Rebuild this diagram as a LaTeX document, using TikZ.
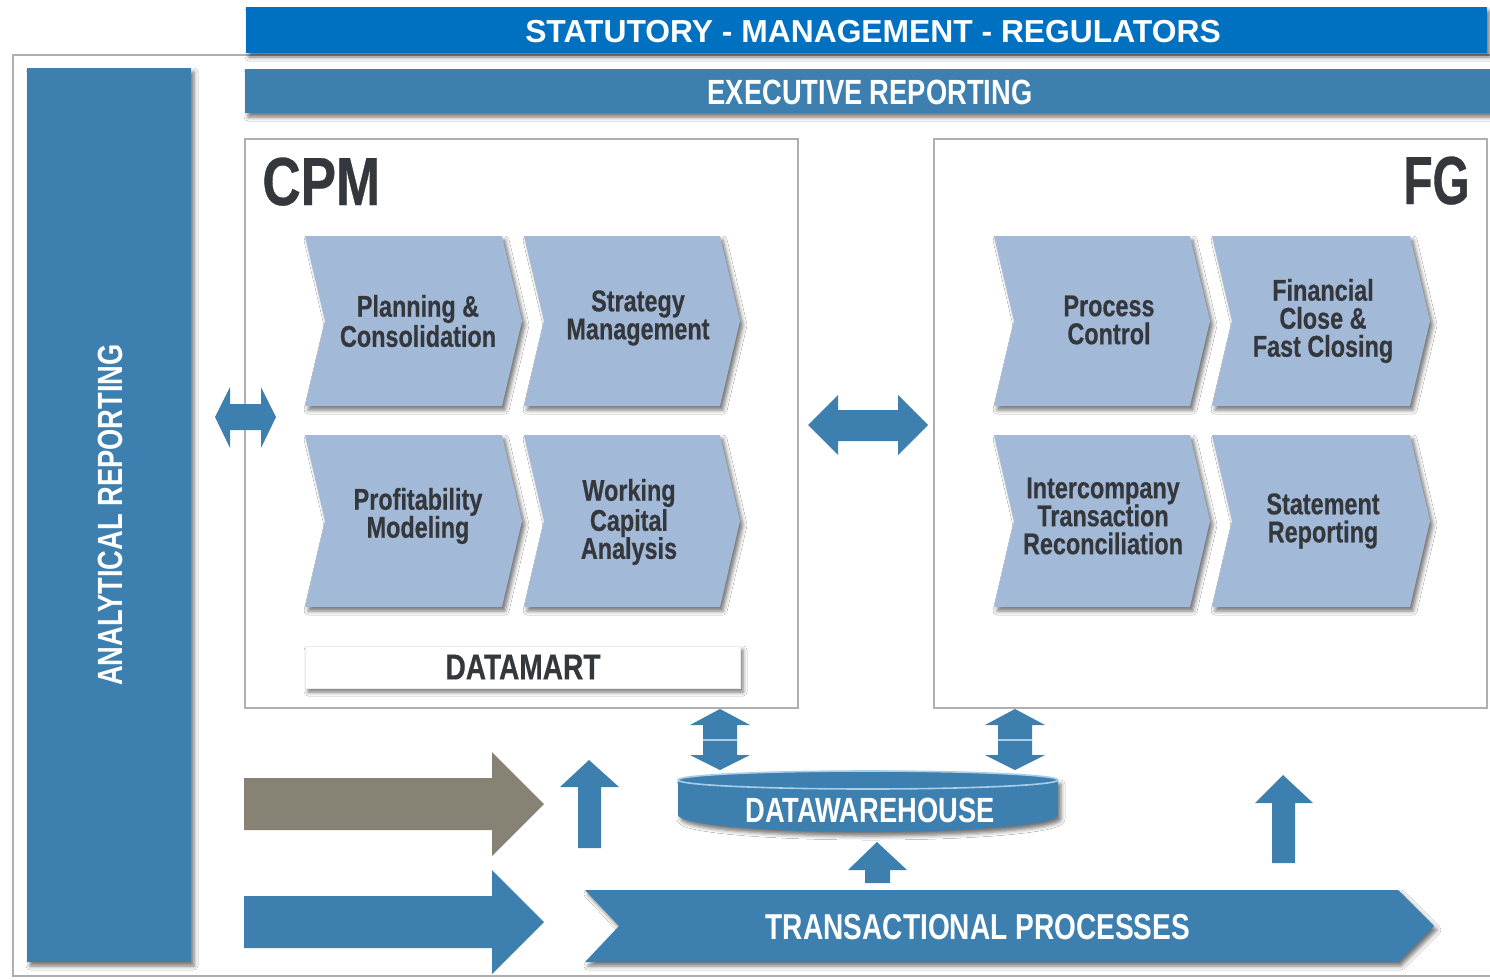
\documentclass[tikz,border=0pt]{standalone}
\usepackage{fontspec}
\setmainfont{Liberation Sans}
\newfontfamily\cf[FakeStretch=0.78]{Liberation Sans}
\newfontfamily\cfb[FakeStretch=0.78, FakeBold=0.5]{Liberation Sans}
\newfontfamily\cfn[FakeStretch=0.70, FakeBold=0.5]{Liberation Sans}
\usetikzlibrary{shadows.blur}
\definecolor{topblue}{RGB}{0,112,192}
\definecolor{midblue}{RGB}{61,128,176}
\definecolor{chevblue}{RGB}{163,185,216}
\definecolor{darktxt}{RGB}{52,56,60}
\definecolor{graybrown}{RGB}{135,131,116}
\definecolor{framegray}{RGB}{175,175,175}
\definecolor{lightline}{RGB}{170,205,232}
\tikzset{
  shd/.style={blur shadow={shadow xshift=1.5pt, shadow yshift=-2pt, shadow blur radius=2pt, shadow opacity=55}},
  chev/.style={fill=chevblue, shd},
  chevtxt/.style={text=darktxt, font=\cfb\bfseries\fontsize{15pt}{14pt}\selectfont, align=center, inner sep=0pt},
  bartxt/.style={text=white, font=\cf\bfseries\fontsize{17.5pt}{18pt}\selectfont, inner sep=0pt},
  bigtxt/.style={text=darktxt, font=\cfb\bfseries\fontsize{34pt}{34pt}\selectfont, inner sep=0pt},
  blk/.style={fill=midblue},
  boxline/.style={draw=framegray, fill=white, line width=0.6pt},
}
\newcommand\chevron[4]{\fill[chev] (#1,#2) -- ({#3-20},#2) -- (#3,{(#2+#4)/2}) -- ({#3-20},#4) -- (#1,#4) -- ({#1+20},{(#2+#4)/2}) -- cycle;}
\begin{document}
\begin{tikzpicture}[x=0.5pt,y=-0.5pt]
\useasboundingbox (0,0) rectangle (1490,980);
\clip (0,0) rectangle (1490,980);
\fill[white] (0,0) rectangle (1490,980);
% outer frame
\draw[framegray, line width=0.8pt] (1500,976) -- (13,976) -- (13,55) -- (1500,55);
% top bar
\fill[topblue, shd] (246,7) rectangle (1487,53);
\node[text=white, font=\bfseries\fontsize{15.9pt}{16pt}\selectfont, inner sep=0pt] (stat) at (873,32) {STATUTORY - MANAGEMENT - REGULATORS};
% executive reporting
\fill[midblue, shd] (245,69) rectangle (1500,113);
\node[bartxt] (exec) at (870,92) {EXECUTIVE REPORTING};
% analytical reporting
\fill[midblue, shd] (27,68) rectangle (191,962);
\node[bartxt, rotate=90] (anal) at (110,515) {ANALYTICAL REPORTING};
% CPM and FG boxes
\draw[boxline] (245,139) rectangle (798,708);
\draw[boxline] (934,139) rectangle (1487,708);
\node[bigtxt, anchor=base west] (cpm) at (262,205) {CPM};
\node[bigtxt, font=\cfn\bfseries\fontsize{34pt}{34pt}\selectfont, anchor=base east] (fg) at (1470,204) {FG};
% CPM chevrons
\chevron{305}{236}{522}{406}
\chevron{524}{236}{740}{406}
\chevron{305}{435}{522}{607}
\chevron{524}{435}{740}{607}
\node[chevtxt] (plan) at (418,321) {Planning \&\\Consolidation};
\node[chevtxt] (strat) at (638,318) {Strategy\\Management};
\node[chevtxt] (prof) at (418,516) {Profitability\\Modeling};
\node[chevtxt] (work) at (629,522) {Working\\Capital\\Analysis};
% FG chevrons
\chevron{994}{236}{1210}{406}
\chevron{1212}{236}{1430}{406}
\chevron{994}{435}{1210}{607}
\chevron{1212}{435}{1430}{607}
\node[chevtxt] (proc) at (1109,320) {Process\\Control};
\node[chevtxt] (fin) at (1323,321) {Financial\\Close \&\\Fast Closing};
\node[chevtxt] (inter) at (1103,516) {Intercompany\\Transaction\\Reconciliation};
\node[chevtxt] (stmt) at (1323,521) {Statement\\Reporting};
% datamart
\fill[white, draw=black!8, shd] (305,646) rectangle (740,688);
\node[text=darktxt, font=\cfb\bfseries\fontsize{18pt}{18pt}\selectfont, inner sep=0pt] (dm) at (523,667) {DATAMART};
% left double arrow
\fill[blk] (215,417) -- (230,387) -- (230,404) -- (261,404) -- (261,387) -- (276,417) -- (261,448) -- (261,430) -- (230,430) -- (230,448) -- cycle;
% middle double arrow
\fill[blk] (808,425) -- (838,395) -- (838,410) -- (898,410) -- (898,395) -- (928,425) -- (898,455) -- (898,441) -- (838,441) -- (838,455) -- cycle;
% vertical double arrows
\foreach \cx in {720,1015}{
  \fill[blk] (\cx,709) -- ({\cx+30},725) -- ({\cx+17},725) -- ({\cx+17},755) -- ({\cx+30},755) -- (\cx,770) -- ({\cx-30},755) -- ({\cx-17},755) -- ({\cx-17},725) -- ({\cx-30},725) -- cycle;
  \draw[lightline, line width=0.7pt] ({\cx-17},740) -- ({\cx+17},740);
}
% datawarehouse
\fill[midblue, shd] (678,780) -- (678,815) arc[start angle=180, end angle=0, x radius=190, y radius=17] -- (1058,780) -- cycle;
\draw[lightline, fill=midblue, line width=0.8pt] (868,780) ellipse[x radius=190, y radius=9];
\node[bartxt] (dw) at (870,810) {DATAWAREHOUSE};
% up arrows
\fill[blk] (877,842) -- (907,870) -- (890,870) -- (890,883) -- (865,883) -- (865,870) -- (848,870) -- cycle;
\fill[blk] (589,760) -- (619,787) -- (601,787) -- (601,848) -- (578,848) -- (578,787) -- (560,787) -- cycle;
\fill[blk] (1283,775) -- (1313,803) -- (1295,803) -- (1295,863) -- (1272,863) -- (1272,803) -- (1255,803) -- cycle;
% big right arrows
\fill[graybrown] (244,778) -- (492,778) -- (492,752) -- (544,804) -- (492,856) -- (492,830) -- (244,830) -- cycle;
\fill[blk] (244,896) -- (492,896) -- (492,870) -- (544,922) -- (492,974) -- (492,948) -- (244,948) -- cycle;
% transactional processes
\fill[midblue, shd] (585,890) -- (1398,890) -- (1434,926) -- (1398,962) -- (585,962) -- (619,926) -- cycle;
\node[bartxt, font=\cf\bfseries\fontsize{18pt}{18pt}\selectfont] (trans) at (978,927) {TRANSACTIONAL PROCESSES};
\end{tikzpicture}
\end{document}
